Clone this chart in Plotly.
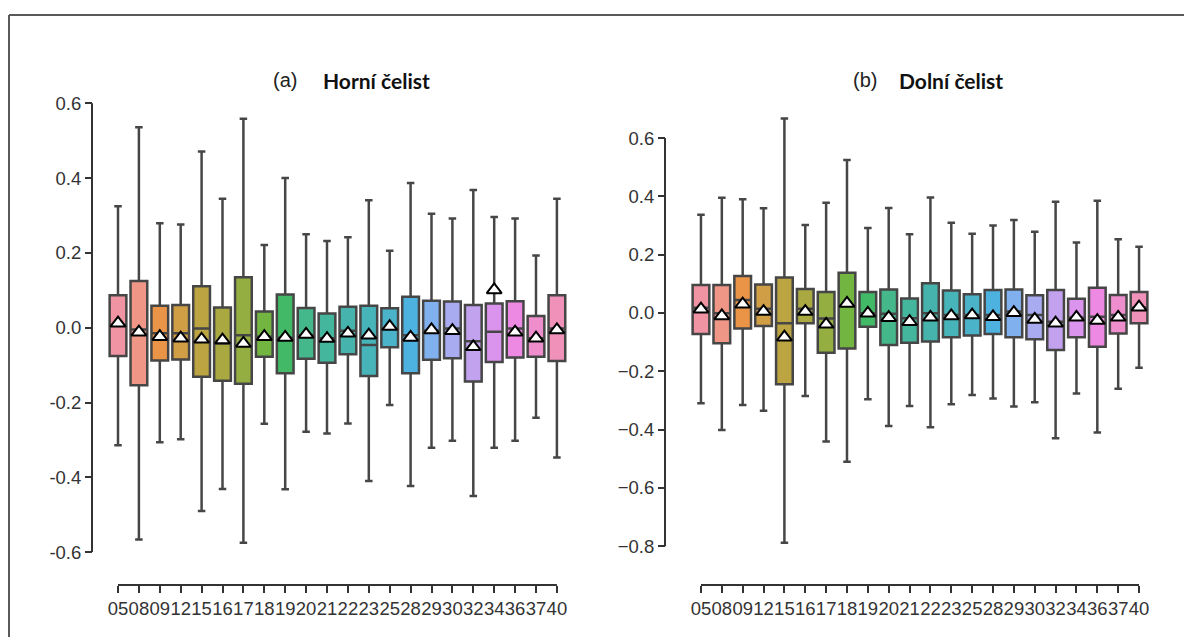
import math
import colorsys
import plotly.graph_objects as go

# ---------------- data ----------------
categories = ["05", "08", "09", "12", "15", "16", "17", "18", "19", "20", "21",
              "22", "23", "25", "28", "29", "30", "32", "34", "36", "37", "40"]

# (a) Horní čelist
horni_low = [-0.314, -0.566, -0.306, -0.298, -0.490, -0.431, -0.575, -0.257, -0.432, -0.278, -0.283,
             -0.256, -0.410, -0.207, -0.423, -0.321, -0.302, -0.450, -0.321, -0.302, -0.241, -0.347]
horni_q1 = [-0.076, -0.154, -0.088, -0.085, -0.131, -0.142, -0.150, -0.078, -0.122, -0.083, -0.094,
            -0.071, -0.129, -0.052, -0.122, -0.086, -0.082, -0.144, -0.092, -0.080, -0.078, -0.089]
horni_med = [0.007, -0.005, -0.015, -0.015, -0.002, -0.042, -0.020, -0.024, -0.027, -0.020, -0.028,
             -0.008, -0.046, -0.002, -0.020, -0.008, -0.002, -0.036, -0.011, -0.002, -0.028, -0.002]
horni_q3 = [0.087, 0.125, 0.059, 0.061, 0.111, 0.054, 0.135, 0.043, 0.089, 0.053, 0.038,
            0.056, 0.059, 0.052, 0.083, 0.072, 0.070, 0.061, 0.065, 0.071, 0.031, 0.087]
horni_high = [0.325, 0.536, 0.279, 0.276, 0.471, 0.345, 0.559, 0.221, 0.400, 0.250, 0.232,
              0.242, 0.341, 0.206, 0.387, 0.305, 0.292, 0.368, 0.296, 0.292, 0.193, 0.345]
horni_mean = [0.012, -0.012, -0.024, -0.028, -0.031, -0.033, -0.042, -0.024, -0.026, -0.018, -0.029,
              -0.015, -0.020, 0.003, -0.026, -0.006, -0.008, -0.051, 0.101, -0.012, -0.028, -0.006]

# (b) Dolní čelist
dolni_low = [-0.310, -0.401, -0.316, -0.335, -0.788, -0.285, -0.441, -0.510, -0.296, -0.388, -0.319,
             -0.392, -0.313, -0.281, -0.293, -0.321, -0.306, -0.430, -0.276, -0.410, -0.260, -0.188]
dolni_q1 = [-0.072, -0.104, -0.053, -0.045, -0.244, -0.035, -0.136, -0.122, -0.047, -0.110, -0.102,
            -0.098, -0.083, -0.077, -0.072, -0.083, -0.090, -0.127, -0.083, -0.116, -0.070, -0.035]
dolni_med = [0.018, -0.001, 0.045, 0.015, -0.035, 0.015, -0.019, 0.027, -0.001, -0.003, -0.018,
             -0.001, -0.007, -0.007, -0.007, 0.005, -0.007, -0.030, -0.016, -0.013, -0.007, 0.018]
dolni_q3 = [0.096, 0.096, 0.127, 0.098, 0.122, 0.082, 0.072, 0.138, 0.072, 0.081, 0.050,
            0.102, 0.077, 0.064, 0.079, 0.081, 0.061, 0.079, 0.049, 0.087, 0.062, 0.072]
dolni_high = [0.337, 0.395, 0.390, 0.359, 0.667, 0.302, 0.378, 0.525, 0.292, 0.360, 0.270,
              0.396, 0.310, 0.272, 0.300, 0.319, 0.279, 0.382, 0.242, 0.385, 0.253, 0.227]
dolni_mean = [0.013, -0.010, 0.030, 0.005, -0.083, 0.005, -0.039, 0.033, -0.001, -0.016, -0.030,
              -0.015, -0.010, -0.007, -0.013, 0.001, -0.022, -0.035, -0.015, -0.026, -0.015, 0.020]

left_ticks = [0.6, 0.4, 0.2, 0.0, -0.2, -0.4, -0.6]
left_ticktext = ["0.6", "0.4", "0.2", "0.0", "-0.2", "-0.4", "-0.6"]
right_ticks = [0.6, 0.4, 0.2, 0.0, -0.2, -0.4, -0.6, -0.8]
right_ticktext = ["0.6", "0.4", "0.2", "0.0", "\u22120.2", "\u22120.4", "\u22120.6", "\u22120.8"]


# ---------------- husl palette (seaborn-like) ----------------
_M = [[3.2406, -1.5372, -0.4986], [-0.9689, 1.8758, 0.0415], [0.0557, -0.2040, 1.0570]]
_refU, _refV = 0.19784, 0.46834


def _max_chroma(L, H):
    hrad = math.radians(H)
    sinH, cosH = math.sin(hrad), math.cos(hrad)
    sub1 = (L + 16) ** 3 / 1560896.0
    sub2 = sub1 if sub1 > 0.008856 else L / 903.3
    result = float("inf")
    for m1, m2, m3 in _M:
        top = (0.99915 * m1 + 1.05122 * m2 + 1.14460 * m3) * sub2
        rb = 0.86330 * m3 - 0.17266 * m2
        lb = 0.12949 * m3 - 0.38848 * m1
        bottom = (rb * sinH + lb * cosH) * sub2
        for t in (0.0, 1.0):
            C = L * (top - 1.05122 * t) / (bottom + 0.17266 * sinH * t)
            if 0.0 < C < result:
                result = C
    return result


def _husl_to_rgb(H, S, L):
    C = _max_chroma(L, H) / 100.0 * S
    hr = math.radians(H)
    U, V = math.cos(hr) * C, math.sin(hr) * C
    t = (L + 16) / 116.0
    varY = t ** 3 if t ** 3 > 0.008856 else (116 * t - 16) / 903.3
    varU = U / (13 * L) + _refU
    varV = V / (13 * L) + _refV
    Y = varY
    X = -(9 * Y * varU) / ((varU - 4) * varV - varU * varV)
    Z = (9 * Y - 15 * varV * Y - varV * X) / (3 * varV)
    out = []
    for row in _M:
        c = row[0] * X + row[1] * Y + row[2] * Z
        c = 12.92 * c if c <= 0.0031308 else 1.055 * c ** (1 / 2.4) - 0.055
        out.append(min(max(c, 0.0), 1.0))
    return out


def husl_palette(n, h=0.01, s=0.9, l=0.71, sat=0.85):
    cols = []
    for i in range(n):
        hue = ((i / n) + h) % 1 * 359
        r, g, b = _husl_to_rgb(hue, s * 99, l * 99)
        hh, ll, ss = colorsys.rgb_to_hls(r, g, b)
        r, g, b = colorsys.hls_to_rgb(hh, ll, ss * sat)
        cols.append("rgb(%d,%d,%d)" % (round(r * 255), round(g * 255), round(b * 255)))
    return cols


colors = husl_palette(len(categories))

# ---------------- figure ----------------
# page body has an 8px margin: figure is placed at (8, 8) in the window
OFF = 8
W, H = 1192 - OFF, 637 - OFF


def PX(px):
    return (px - OFF) / W


def PY(py):
    return 1 - (py - OFF) / H


fig = go.Figure()
edge = "#464646"
xs = list(range(len(categories)))


def add_panel(xa, ya, low, q1, med, q3, high, mean):
    for i in xs:
        fig.add_trace(go.Box(
            x=[i], lowerfence=[low[i]], q1=[q1[i]], median=[med[i]], q3=[q3[i]],
            upperfence=[high[i]], orientation="v", width=0.8, whiskerwidth=0.45,
            fillcolor=colors[i], line=dict(color=edge, width=2.5), boxpoints=False,
            xaxis=xa, yaxis=ya, showlegend=False, hoverinfo="skip"))
    fig.add_trace(go.Scatter(
        x=xs, y=mean, mode="markers", xaxis=xa, yaxis=ya, showlegend=False,
        hoverinfo="skip",
        marker=dict(symbol="triangle-up", size=13, color="white",
                    line=dict(color="black", width=2))))


add_panel("x", "y", horni_low, horni_q1, horni_med, horni_q3, horni_high, horni_mean)
add_panel("x2", "y2", dolni_low, dolni_q1, dolni_med, dolni_q3, dolni_high, dolni_mean)

top_px, bot_px = 90, 575
ydom = [PY(bot_px), PY(top_px)]
xpos = PY(585)
tickfont = dict(family="Liberation Sans, Arial, sans-serif", size=18.5, color="#333333")
axcommon = dict(ticks="outside", ticklen=7, tickwidth=2, tickcolor="#333333",
                showline=False, showgrid=False, zeroline=False, tickfont=tickfont)

fig.update_layout(
    width=W, height=H, margin=dict(l=0, r=0, t=0, b=0),
    paper_bgcolor="white", plot_bgcolor="rgba(0,0,0,0)", boxmode="overlay",
    xaxis=dict(domain=[PX(97.1), PX(577.8)], range=[-1, 22], anchor="free", position=xpos,
               tickmode="array", tickvals=xs, ticktext=categories, tickangle=0, **axcommon),
    yaxis=dict(domain=ydom, range=[(327.7 - bot_px) / 374, (327.7 - top_px) / 374], anchor="free",
               position=PX(92), tickmode="array", tickvals=left_ticks, ticktext=left_ticktext,
               **axcommon),
    xaxis2=dict(domain=[PX(680.1), PX(1159.9)], range=[-1, 22], anchor="free", position=xpos,
                tickmode="array", tickvals=xs, ticktext=categories, tickangle=0, **axcommon),
    yaxis2=dict(domain=ydom, range=[(313 - bot_px) / 291.5, (313 - top_px) / 291.5], anchor="free",
                position=PX(665), tickmode="array", tickvals=right_ticks,
                ticktext=right_ticktext, **axcommon),
)

# trimmed spines
spine = dict(color="#333333", width=2)
fig.add_shape(type="line", xref="x", yref="paper", x0=xs[0], x1=xs[-1], y0=xpos, y1=xpos, line=spine)
fig.add_shape(type="line", xref="x2", yref="paper", x0=xs[0], x1=xs[-1], y0=xpos, y1=xpos, line=spine)
fig.add_shape(type="line", xref="paper", yref="y", x0=PX(92), x1=PX(92),
              y0=min(left_ticks), y1=max(left_ticks), line=spine)
fig.add_shape(type="line", xref="paper", yref="y2", x0=PX(665), x1=PX(665),
              y0=min(right_ticks), y1=max(right_ticks), line=spine)

# outer frame (top and left)
frame = dict(color="#5a5a5a", width=2)
fig.add_shape(type="line", xref="paper", yref="paper", x0=PX(9), x1=1, y0=PY(15), y1=PY(15), line=frame)
fig.add_shape(type="line", xref="paper", yref="paper", x0=PX(9), x1=PX(9), y0=0, y1=PY(15), line=frame)

# titles
narrow = dict(family="Liberation Sans Narrow, Liberation Sans, Arial, sans-serif", size=20, color="#222222")
bold = dict(family="Lato, Open Sans, sans-serif", size=21, color="#111111")
for xl, lab, xt, txt in [(285, "(a)", 376, "<b>Horní čelist</b>"), (865, "(b)", 951, "<b>Dolní čelist</b>")]:
    fig.add_annotation(xref="paper", yref="paper", x=PX(xl), y=PY(80), text=lab,
                       showarrow=False, font=narrow, xanchor="center", yanchor="middle")
    fig.add_annotation(xref="paper", yref="paper", x=PX(xt), y=PY(80), text=txt,
                       showarrow=False, font=bold, xanchor="center", yanchor="middle")

fig.write_html("out.html")
